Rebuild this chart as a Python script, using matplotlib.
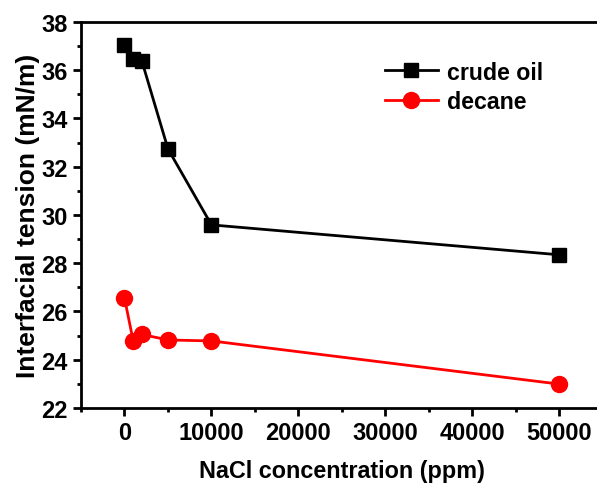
import matplotlib
matplotlib.use("Agg")
import matplotlib.pyplot as plt
from matplotlib.ticker import MultipleLocator

plt.rcParams['font.family'] = ['Liberation Sans', 'DejaVu Sans']
plt.rcParams['font.weight'] = 'bold'

# data
nacl = [0, 1000, 2000, 5000, 10000, 50000]
crude_oil = [37.05, 36.47, 36.38, 32.74, 29.59, 28.35]
decane = [26.56, 24.78, 25.05, 24.82, 24.78, 22.99]

fig = plt.figure(figsize=(5.97, 4.85), dpi=100)
ax = fig.add_axes([0.1357, 0.1567, 0.874, 0.7959])

ax.plot(nacl, crude_oil, color="black", linewidth=2.0, marker="s", markersize=10, label="crude oil")
ax.plot(nacl, decane, color="red", linewidth=2.0, marker="o", markersize=11.5, label="decane")

ax.set_xlim(-5000, 55000)
ax.set_ylim(22, 38)
ax.xaxis.set_major_locator(MultipleLocator(10000))
ax.xaxis.set_minor_locator(MultipleLocator(5000))
ax.yaxis.set_major_locator(MultipleLocator(2))
ax.yaxis.set_minor_locator(MultipleLocator(1))
ax.tick_params(which="major", direction="out", length=6, width=2, labelsize=17)
ax.tick_params(which="minor", direction="out", length=3, width=2)
for s in ax.spines.values():
    s.set_linewidth(2)

ax.set_xlabel("NaCl concentration (ppm)", fontsize=16.8, fontweight="bold", labelpad=11)
ax.set_ylabel("Interfacial tension (mN/m)", fontsize=19, fontweight="bold", labelpad=1)

ax.legend(loc="upper left", bbox_to_anchor=(0.582, 0.90), borderaxespad=0, borderpad=0,
          frameon=False, fontsize=16.7, handlelength=2.3, handletextpad=0.4,
          labelspacing=0.26)

fig.savefig("out.png", dpi=100)
